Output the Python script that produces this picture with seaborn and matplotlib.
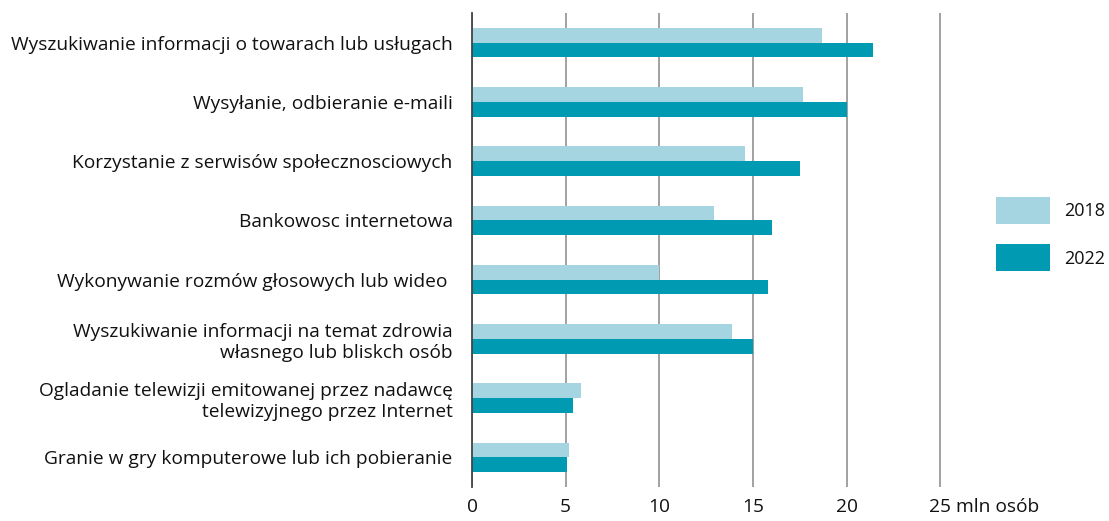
import pandas as pd
import matplotlib.pyplot as plt
import seaborn as sns

# Dane
kategorie = [
    "Wyszukiwanie informacji o towarach lub usługach",
    "Wysyłanie, odbieranie e-maili",
    "Korzystanie z serwisów społecznosciowych",
    "Bankowosc internetowa",
    "Wykonywanie rozmów głosowych lub wideo ",
    "Wyszukiwanie informacji na temat zdrowia\nwłasnego lub bliskch osób",
    "Ogladanie telewizji emitowanej przez nadawcę\ntelewizyjnego przez Internet",
    "Granie w gry komputerowe lub ich pobieranie",
]
wart_2018 = [18.7, 17.7, 14.6, 12.9, 10.0, 13.9, 5.8, 5.2]
wart_2022 = [21.4, 20.0, 17.5, 16.0, 15.8, 15.0, 5.4, 5.1]
lata = ["2018", "2022"]
kolory = ["#a6d5e2", "#009bb3"]
xticks = [0, 5, 10, 15, 20, 25]
xtick_labels = ["0", "5", "10", "15", "20", "25"]

df = pd.DataFrame({
    "kategoria": kategorie * 2,
    "rok": [lata[0]] * len(kategorie) + [lata[1]] * len(kategorie),
    "wartosc": wart_2018 + wart_2022,
})

FS = 13.8
TXT = "#111111"

sns.set_theme(style="white")
plt.rcParams["font.family"] = ["Open Sans", "DejaVu Sans"]
plt.rcParams["font.size"] = FS

fig = plt.figure(figsize=(11.09, 5.21), dpi=100)
ax = fig.add_axes([472 / 1109, 1 - 487 / 521, (942 - 472) / 1109, (487 - 13) / 521])

sns.barplot(data=df, y="kategoria", x="wartosc", hue="rok", order=kategorie,
            palette=kolory, saturation=1, width=0.5, ax=ax, linewidth=0, legend=True)

ax.set_xlim(0, 25.1)
ax.set_ylim(len(kategorie) - 0.5, -0.5)
ax.set_xticks(xticks)
ax.set_xticklabels(xtick_labels)
ax.set_xlabel("")
ax.set_ylabel("")
ax.grid(axis="x", color="#9a9a9a", linewidth=1.3)
ax.set_axisbelow(True)
for s in ["top", "right", "bottom"]:
    ax.spines[s].set_visible(False)
ax.spines["left"].set_color("#444444")
ax.spines["left"].set_linewidth(1.3)
ax.tick_params(axis="y", length=0, pad=14, labelsize=FS, labelcolor=TXT)
ax.tick_params(axis="x", length=0, pad=8, labelsize=FS, labelcolor=TXT)
for lab in ax.get_yticklabels():
    lab.set_ha("right")
    lab.set_multialignment("right")

ax.annotate("mln osób", xy=(25, 0), xycoords=("data", "axes fraction"),
            xytext=(11.5, -8), textcoords="offset points", ha="left", va="top",
            fontsize=FS, color=TXT)

handles, labels = ax.get_legend_handles_labels()
ax.legend_.remove()
fig.legend(handles, labels, loc="center left", bbox_to_anchor=(996 / 1109, 1 - 234 / 521),
           frameon=False, borderpad=0, borderaxespad=0,
           handlelength=3.0, handleheight=1.9, labelspacing=1.15,
           handletextpad=0.75, fontsize=13, labelcolor=TXT)

fig.savefig("out.png", dpi=100)
